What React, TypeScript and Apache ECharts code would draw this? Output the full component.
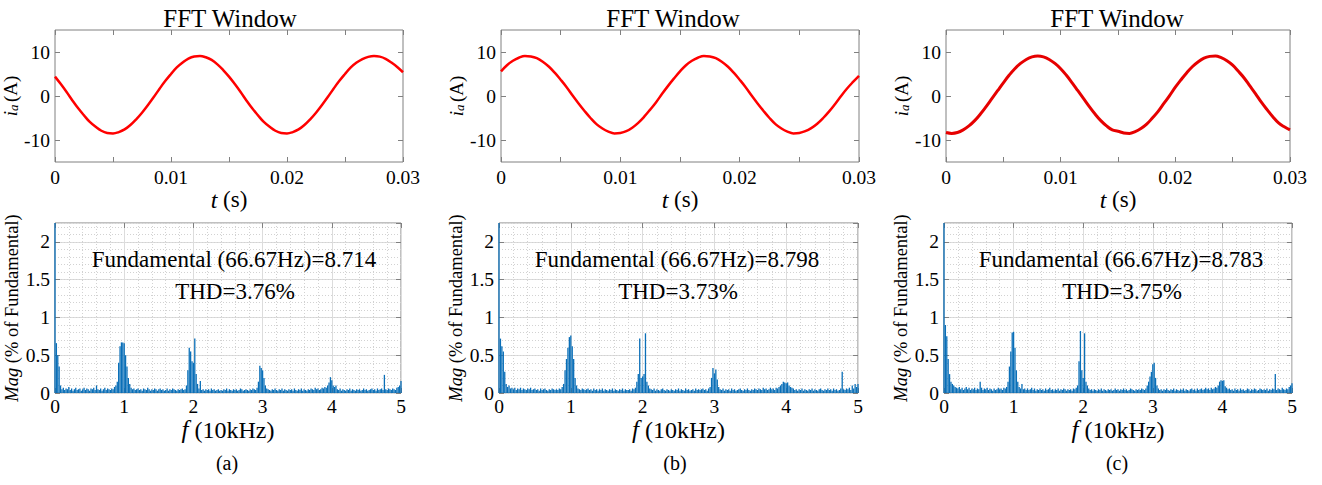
import React, { useEffect, useRef } from 'react';
import * as echarts from 'echarts';

const FONT = '"Times New Roman", "Liberation Serif", serif';
const TIME_STEP_S = 0.0005;
const FREQ_STEP = 0.02; // units of 10 kHz

// phase current i_a (A), one sample per 0.5 ms, t = 0 .. 0.03 s
const currentA = [
  4.4, 2.7, 0.9, -1.0, -2.8, -4.4, -5.9, -7.0, -7.9, -8.4, -8.5, -8.2, -7.6, -6.6, -5.3, -3.8, -2.1, -0.3, 1.6, 3.4,
  5.0, 6.5, 7.6, 8.5, 9.0, 9.1, 8.8, 8.2, 7.2, 5.9,
  4.4, 2.7, 0.9, -1.0, -2.8, -4.4, -5.9, -7.0, -7.9, -8.4, -8.5, -8.2, -7.6, -6.6, -5.3, -3.8, -2.1, -0.3, 1.6, 3.4,
  5.0, 6.5, 7.6, 8.4, 8.9, 9.1, 8.95, 8.45, 7.6, 6.6, 5.4,
];
const currentB = [
  5.6, 7.0, 8.0, 8.7, 9.1, 9.0, 8.6, 7.8, 6.7, 5.3, 3.7, 2.0, 0.1, -1.7, -3.4, -5.0, -6.4, -7.4, -8.1, -8.5,
  -8.4, -8.0, -7.2, -6.1, -4.7, -3.1, -1.4, 0.5, 2.3, 4.0,
  5.6, 7.0, 8.0, 8.7, 9.1, 9.0, 8.6, 7.8, 6.7, 5.3, 3.7, 2.0, 0.1, -1.7, -3.4, -5.0, -6.4, -7.4, -8.1, -8.5,
  -8.4, -8.0, -7.3, -6.3, -5.0, -3.5, -1.8, 0.0, 1.7, 3.2, 4.6,
];
const currentC = [
  -8.3, -8.5, -8.3, -7.7, -6.8, -5.6, -4.1, -2.4, -0.6, 1.2, 3.0, 4.7, 6.2, 7.4, 8.3, 8.9, 9.1, 8.9, 8.3, 7.4,
  6.2, 4.7, 3.0, 1.2, -0.6, -2.4, -4.1, -5.6, -6.8, -7.7,
  -8.0, -8.4, -8.5, -8.1, -7.4, -6.4, -5.0, -3.5, -1.7, 0.1, 2.0, 3.7, 5.3, 6.7, 7.8, 8.6, 9.0, 9.1, 8.7, 8.0,
  7.0, 5.6, 4.1, 2.3, 0.5, -1.4, -3.1, -4.7, -6.1, -7.0, -7.7,
];

// harmonic magnitude (% of fundamental), one bin per 0.02 (x10 kHz), f = 0 .. 5
const spectrumA = [
  2.4, 0.66, 0.5, 0.35, 0.1, 0.05, 0.07, 0.04, 0.06, 0.05,
  0.08, 0.04, 0.06, 0.03, 0.05, 0.07, 0.04, 0.05, 0.06, 0.03,
  0.05, 0.07, 0.04, 0.06, 0.05, 0.03, 0.06, 0.05, 0.07, 0.04,
  0.1, 0.05, 0.04, 0.06, 0.03, 0.05, 0.07, 0.04, 0.06, 0.05,
  0.04, 0.06, 0.05, 0.08, 0.1, 0.15, 0.4, 0.62, 0.67, 0.67,
  0.66, 0.5, 0.35, 0.2, 0.12, 0.07, 0.05, 0.06, 0.04, 0.05,
  0.06, 0.04, 0.05, 0.03, 0.06, 0.05, 0.04, 0.07, 0.05, 0.03,
  0.05, 0.04, 0.06, 0.05, 0.03, 0.05, 0.06, 0.04, 0.05, 0.03,
  0.04, 0.06, 0.03, 0.05, 0.04, 0.06, 0.05, 0.04, 0.03, 0.05,
  0.04, 0.05, 0.06, 0.04, 0.05, 0.1, 0.3, 0.6, 0.55, 0.42,
  0.4, 0.72, 0.25, 0.12, 0.06, 0.16, 0.04, 0.05, 0.03, 0.05,
  0.04, 0.05, 0.03, 0.06, 0.04, 0.05, 0.03, 0.04, 0.05, 0.03,
  0.04, 0.03, 0.05, 0.04, 0.06, 0.03, 0.05, 0.04, 0.03, 0.05,
  0.04, 0.05, 0.03, 0.04, 0.06, 0.05, 0.03, 0.04, 0.05, 0.04,
  0.03, 0.05, 0.04, 0.06, 0.05, 0.04, 0.07, 0.15, 0.36, 0.33,
  0.3, 0.2, 0.1, 0.06, 0.05, 0.04, 0.03, 0.05, 0.04, 0.06,
  0.04, 0.03, 0.05, 0.04, 0.06, 0.03, 0.05, 0.04, 0.03, 0.05,
  0.04, 0.05, 0.03, 0.06, 0.04, 0.03, 0.05, 0.04, 0.06, 0.03,
  0.05, 0.04, 0.03, 0.05, 0.04, 0.06, 0.05, 0.04, 0.07, 0.05,
  0.06, 0.04, 0.05, 0.07, 0.06, 0.08, 0.07, 0.1, 0.14, 0.21,
  0.17, 0.1, 0.08, 0.1, 0.05, 0.04, 0.06, 0.03, 0.05, 0.04,
  0.03, 0.05, 0.04, 0.06, 0.03, 0.05, 0.04, 0.03, 0.05, 0.04,
  0.05, 0.03, 0.04, 0.06, 0.04, 0.05, 0.03, 0.04, 0.05, 0.06,
  0.04, 0.05, 0.03, 0.06, 0.04, 0.05, 0.06, 0.04, 0.24, 0.05,
  0.04, 0.06, 0.05, 0.04, 0.06, 0.05, 0.04, 0.07, 0.08, 0.1,
  0.16,
];
const spectrumB = [
  2.4, 0.72, 0.62, 0.55, 0.28, 0.12, 0.08, 0.1, 0.06, 0.07,
  0.05, 0.07, 0.04, 0.06, 0.05, 0.07, 0.04, 0.06, 0.05, 0.04,
  0.06, 0.05, 0.07, 0.04, 0.05, 0.06, 0.04, 0.05, 0.03, 0.06,
  0.04, 0.05, 0.06, 0.04, 0.03, 0.05, 0.04, 0.06, 0.05, 0.04,
  0.05, 0.04, 0.06, 0.05, 0.08, 0.12, 0.3, 0.45, 0.6, 0.74,
  0.76, 0.62, 0.45, 0.2, 0.1, 0.06, 0.05, 0.04, 0.06, 0.05,
  0.04, 0.05, 0.06, 0.04, 0.05, 0.03, 0.06, 0.04, 0.05, 0.03,
  0.05, 0.04, 0.06, 0.03, 0.05, 0.04, 0.03, 0.05, 0.04, 0.06,
  0.03, 0.05, 0.04, 0.03, 0.05, 0.04, 0.06, 0.03, 0.05, 0.04,
  0.04, 0.05, 0.03, 0.06, 0.05, 0.07, 0.15, 0.25, 0.72, 0.2,
  0.22, 0.25, 0.79, 0.15, 0.1, 0.06, 0.05, 0.04, 0.06, 0.03,
  0.05, 0.04, 0.03, 0.05, 0.06, 0.04, 0.03, 0.05, 0.04, 0.03,
  0.05, 0.04, 0.03, 0.05, 0.04, 0.06, 0.03, 0.05, 0.04, 0.03,
  0.06, 0.04, 0.05, 0.03, 0.04, 0.05, 0.03, 0.06, 0.04, 0.05,
  0.04, 0.05, 0.06, 0.04, 0.05, 0.03, 0.06, 0.08, 0.2, 0.33,
  0.26, 0.31, 0.18, 0.08, 0.05, 0.04, 0.06, 0.03, 0.05, 0.04,
  0.05, 0.03, 0.06, 0.04, 0.05, 0.03, 0.04, 0.05, 0.06, 0.04,
  0.03, 0.05, 0.04, 0.06, 0.04, 0.03, 0.05, 0.04, 0.06, 0.05,
  0.04, 0.06, 0.05, 0.04, 0.07, 0.05, 0.06, 0.04, 0.05, 0.07,
  0.05, 0.06, 0.04, 0.07, 0.06, 0.08, 0.1, 0.12, 0.15, 0.14,
  0.13, 0.14, 0.1, 0.08, 0.07, 0.06, 0.04, 0.05, 0.03, 0.05,
  0.04, 0.06, 0.03, 0.05, 0.04, 0.03, 0.05, 0.04, 0.06, 0.03,
  0.05, 0.04, 0.03, 0.05, 0.06, 0.04, 0.03, 0.05, 0.04, 0.06,
  0.04, 0.05, 0.03, 0.06, 0.04, 0.05, 0.03, 0.04, 0.06, 0.28,
  0.05, 0.04, 0.06, 0.05, 0.07, 0.04, 0.1, 0.06, 0.12, 0.08,
  0.12,
];
const spectrumC = [
  2.4, 0.9, 0.75, 0.45, 0.25, 0.15, 0.12, 0.1, 0.08, 0.07,
  0.06, 0.08, 0.05, 0.07, 0.04, 0.06, 0.08, 0.05, 0.07, 0.04,
  0.06, 0.05, 0.07, 0.04, 0.06, 0.05, 0.15, 0.07, 0.04, 0.06,
  0.05, 0.07, 0.04, 0.06, 0.05, 0.03, 0.06, 0.04, 0.05, 0.07,
  0.05, 0.06, 0.04, 0.07, 0.06, 0.08, 0.15, 0.35, 0.55, 0.8,
  0.81, 0.6, 0.3, 0.15, 0.08, 0.06, 0.12, 0.05, 0.06, 0.04,
  0.06, 0.04, 0.05, 0.07, 0.04, 0.06, 0.03, 0.05, 0.04, 0.06,
  0.04, 0.05, 0.03, 0.06, 0.04, 0.05, 0.07, 0.04, 0.05, 0.03,
  0.05, 0.04, 0.06, 0.03, 0.05, 0.04, 0.06, 0.05, 0.03, 0.05,
  0.04, 0.05, 0.03, 0.06, 0.05, 0.07, 0.1, 0.42, 0.82, 0.3,
  0.2, 0.79, 0.15, 0.1, 0.06, 0.04, 0.05, 0.03, 0.05, 0.04,
  0.03, 0.05, 0.04, 0.06, 0.03, 0.05, 0.04, 0.03, 0.05, 0.04,
  0.05, 0.03, 0.04, 0.06, 0.04, 0.05, 0.03, 0.05, 0.04, 0.06,
  0.04, 0.05, 0.03, 0.04, 0.06, 0.05, 0.04, 0.03, 0.05, 0.04,
  0.05, 0.04, 0.06, 0.05, 0.04, 0.06, 0.1, 0.15, 0.22, 0.28,
  0.38, 0.4, 0.2, 0.1, 0.06, 0.04, 0.05, 0.03, 0.05, 0.04,
  0.06, 0.04, 0.03, 0.05, 0.04, 0.06, 0.03, 0.05, 0.04, 0.03,
  0.05, 0.04, 0.06, 0.03, 0.05, 0.04, 0.03, 0.05, 0.06, 0.04,
  0.05, 0.03, 0.06, 0.04, 0.05, 0.06, 0.04, 0.05, 0.07, 0.05,
  0.06, 0.04, 0.07, 0.05, 0.06, 0.08, 0.07, 0.1, 0.15, 0.17,
  0.16, 0.17, 0.09, 0.07, 0.05, 0.06, 0.04, 0.05, 0.03, 0.06,
  0.04, 0.05, 0.03, 0.06, 0.04, 0.05, 0.03, 0.04, 0.06, 0.05,
  0.03, 0.05, 0.04, 0.06, 0.05, 0.03, 0.04, 0.06, 0.05, 0.04,
  0.05, 0.04, 0.06, 0.03, 0.05, 0.04, 0.06, 0.05, 0.25, 0.04,
  0.06, 0.05, 0.04, 0.07, 0.05, 0.04, 0.06, 0.05, 0.08, 0.1,
  0.13,
];

const fundamentalLabels = ['Fundamental (66.67Hz)=8.714', 'Fundamental (66.67Hz)=8.798', 'Fundamental (66.67Hz)=8.783'];
const thdLabels = ['THD=3.76%', 'THD=3.73%', 'THD=3.75%'];
const panelLabels = ['(a)', '(b)', '(c)'];
const currentTickValues = [-10, 0, 10];
const titleText = 'FFT Window';

const currents = [currentA, currentB, currentC];
const spectra = [spectrumA, spectrumB, spectrumC];

// layout
const TOP_GRIDS = [
  { left: 55, top: 30, width: 348, height: 132 },
  { left: 501, top: 30, width: 358, height: 132 },
  { left: 946, top: 30, width: 344, height: 132 },
];
const BOTTOM_GRIDS = [
  { left: 55, top: 223, width: 346, height: 170 },
  { left: 499, top: 223, width: 359, height: 170 },
  { left: 944, top: 223, width: 348, height: 170 },
];
const TITLE_X = [230, 673, 1117];
const TEXT_X = [234, 677, 1121];
const PANEL_X = [227, 675, 1117];

const BORDER = '#808080';
const tickStyle = { show: true, inside: true, length: 5, lineStyle: { color: BORDER, width: 1 } };
const labelBase = { fontFamily: FONT, color: '#000' };
const hiddenLine = { show: false, onZero: false };

function fmtTime(v: number) {
  const k = v * 100;
  if (Math.abs(k - Math.round(k)) > 1e-6) return '';
  return String(Math.round(k) / 100);
}
function fmtCurrent(v: number) {
  return Math.round(v) % 10 === 0 ? String(Math.round(v)) : '';
}
function fmtMag(v: number) {
  const k = v * 2;
  if (Math.abs(k - Math.round(k)) > 1e-6) return '';
  return String(Math.round(k) / 2);
}

function buildOption() {
  const grid: any[] = [...TOP_GRIDS, ...BOTTOM_GRIDS].map((g) => ({
    ...g,
    show: true,
    borderColor: BORDER,
    borderWidth: 1,
    backgroundColor: 'transparent',
    containLabel: false,
  }));
  const xAxis: any[] = [];
  const yAxis: any[] = [];
  const series: any[] = [];
  const graphic: any[] = [];

  for (let p = 0; p < 3; p++) {
    // ---------- top: waveform ----------
    const gt = p;
    const xi = xAxis.length;
    xAxis.push({
      type: 'value', gridIndex: gt, min: 0, max: 0.03, interval: 0.005, position: 'bottom',
      axisLine: hiddenLine, axisTick: tickStyle, splitLine: { show: false },
      axisLabel: { ...labelBase, fontSize: 19.5, margin: 5, formatter: fmtTime },
      name: '{it|t}{rg| (s)}', nameLocation: 'middle', nameGap: 23,
      nameTextStyle: {
        ...labelBase, fontSize: 23,
        rich: { it: { fontFamily: FONT, fontSize: 24, fontStyle: 'italic', color: '#000' }, rg: { fontFamily: FONT, fontSize: 23, color: '#000' } },
      },
    });
    xAxis.push({
      type: 'value', gridIndex: gt, min: 0, max: 0.03, interval: 0.005, position: 'top',
      axisLine: hiddenLine, axisTick: tickStyle, splitLine: { show: false }, axisLabel: { show: false },
    });
    const yi = yAxis.length;
    yAxis.push({
      type: 'value', gridIndex: gt, min: -15, max: 15, interval: 5, position: 'left',
      axisLine: hiddenLine,
      axisTick: { ...tickStyle, customValues: currentTickValues },
      splitLine: { show: false },
      axisLabel: { ...labelBase, fontSize: 19.5, margin: 5, formatter: fmtCurrent, customValues: currentTickValues },
      name: '{it|i}{sub|a}{sp| }{rg|(A)}', nameLocation: 'middle', nameGap: 29,
      nameTextStyle: {
        ...labelBase, fontSize: 18,
        rich: {
          it: { fontFamily: FONT, fontSize: 19, fontStyle: 'italic', color: '#000', lineHeight: 22, verticalAlign: 'bottom' },
          sub: { fontFamily: FONT, fontSize: 13, fontStyle: 'italic', color: '#000', lineHeight: 13, verticalAlign: 'bottom' },
          sp: { fontFamily: FONT, fontSize: 10, color: '#000', lineHeight: 22, verticalAlign: 'bottom' },
          rg: { fontFamily: FONT, fontSize: 19, color: '#000', lineHeight: 22, verticalAlign: 'bottom' },
        },
      },
    });
    yAxis.push({
      type: 'value', gridIndex: gt, min: -15, max: 15, interval: 5, position: 'right',
      axisLine: hiddenLine,
      axisTick: { ...tickStyle, customValues: currentTickValues },
      splitLine: { show: false }, axisLabel: { show: false },
    });
    series.push({
      type: 'line', xAxisIndex: xi, yAxisIndex: yi,
      data: currents[p].map((v, i) => [+(i * TIME_STEP_S).toFixed(4), v]),
      smooth: 0.4, showSymbol: false, symbol: 'none',
      lineStyle: { color: p === 2 ? '#e60000' : '#ff0000', width: p === 2 ? 3 : 2.5 },
      z: 3,
    });

    // ---------- bottom: spectrum ----------
    const gb = 3 + p;
    const xbi = xAxis.length;
    xAxis.push({
      type: 'value', gridIndex: gb, min: 0, max: 5, interval: 1, position: 'bottom',
      axisLine: hiddenLine, axisTick: tickStyle,
      splitLine: { show: true, lineStyle: { color: '#dcdcdc', width: 1 } },
      minorTick: { show: false, splitNumber: 5 },
      minorSplitLine: { show: true, lineStyle: { color: '#d2d2d2', width: 1, type: [1, 2] } },
      axisLabel: { ...labelBase, fontSize: 19.5, margin: 3 },
      name: '{it|f}{rg| (10kHz)}', nameLocation: 'middle', nameGap: 24,
      nameTextStyle: {
        ...labelBase, fontSize: 24,
        rich: { it: { fontFamily: FONT, fontSize: 25, fontStyle: 'italic', color: '#000' }, rg: { fontFamily: FONT, fontSize: 24, color: '#000' } },
      },
    });
    xAxis.push({
      type: 'value', gridIndex: gb, min: 0, max: 5, interval: 1, position: 'top',
      axisLine: hiddenLine, axisTick: tickStyle, splitLine: { show: false }, axisLabel: { show: false },
    });
    const ybi = yAxis.length;
    yAxis.push({
      type: 'value', gridIndex: gb, min: 0, max: 2.25, interval: 0.5, position: 'left',
      axisLine: hiddenLine, axisTick: tickStyle,
      splitLine: { show: true, lineStyle: { color: '#dcdcdc', width: 1 } },
      axisLabel: { ...labelBase, fontSize: 19.5, margin: 5, formatter: fmtMag, showMaxLabel: false },
      name: '{it|Mag}{rg| (% of Fundamental)}', nameLocation: 'middle', nameGap: 29,
      nameTextStyle: {
        ...labelBase, fontSize: 18.5,
        rich: { it: { fontFamily: FONT, fontSize: 18.5, fontStyle: 'italic', color: '#000' }, rg: { fontFamily: FONT, fontSize: 18.5, color: '#000' } },
      },
    });
    yAxis.push({
      type: 'value', gridIndex: gb, min: 0, max: 2.25, interval: 0.1, position: 'right',
      axisLine: hiddenLine, axisTick: { show: false }, axisLabel: { show: false },
      splitLine: { show: true, lineStyle: { color: '#d2d2d2', width: 1, type: [1, 2] } },
    });
    yAxis.push({
      type: 'value', gridIndex: gb, min: 0, max: 2.25, interval: 0.5, position: 'right',
      axisLine: hiddenLine, axisTick: tickStyle, axisLabel: { show: false }, splitLine: { show: false },
    });
    series.push({
      type: 'bar', xAxisIndex: xbi, yAxisIndex: ybi,
      data: spectra[p].map((v, i) => [+(i * FREQ_STEP).toFixed(2), v]),
      barWidth: 1.3, clip: true,
      itemStyle: { color: '#0a6fb8' },
      z: 3,
    });

    // ---------- texts ----------
    const txt = (text: string, x: number, y: number, size: number) => ({
      type: 'text', x, y, z: 10,
      style: {
        text, x: 0, y: 0, fill: '#000', fontFamily: FONT, fontSize: size,
        align: 'center', verticalAlign: 'middle', textAlign: 'center', textVerticalAlign: 'middle',
      },
    });
    graphic.push(txt(titleText, TITLE_X[p], 18, 25));
    graphic.push(txt(fundamentalLabels[p], TEXT_X[p], 259, 23));
    graphic.push(txt(thdLabels[p], TEXT_X[p] + 1, 291, 23));
    graphic.push(txt(panelLabels[p], PANEL_X[p], 463, 20));
  }

  return {
    animation: false,
    backgroundColor: '#ffffff',
    textStyle: { fontFamily: FONT },
    grid,
    xAxis,
    yAxis,
    series,
    graphic,
  };
}

export default function App() {
  const ref = useRef<HTMLDivElement>(null);
  useEffect(() => {
    document.body.style.margin = '0';
    if (!ref.current) return;
    const chart = echarts.init(ref.current, undefined, { renderer: 'svg' });
    chart.setOption(buildOption() as any);
    return () => chart.dispose();
  }, []);
  return <div ref={ref} style={{ position: 'absolute', left: 0, top: 0, width: 1322, height: 485, background: '#fff' }} />;
}
